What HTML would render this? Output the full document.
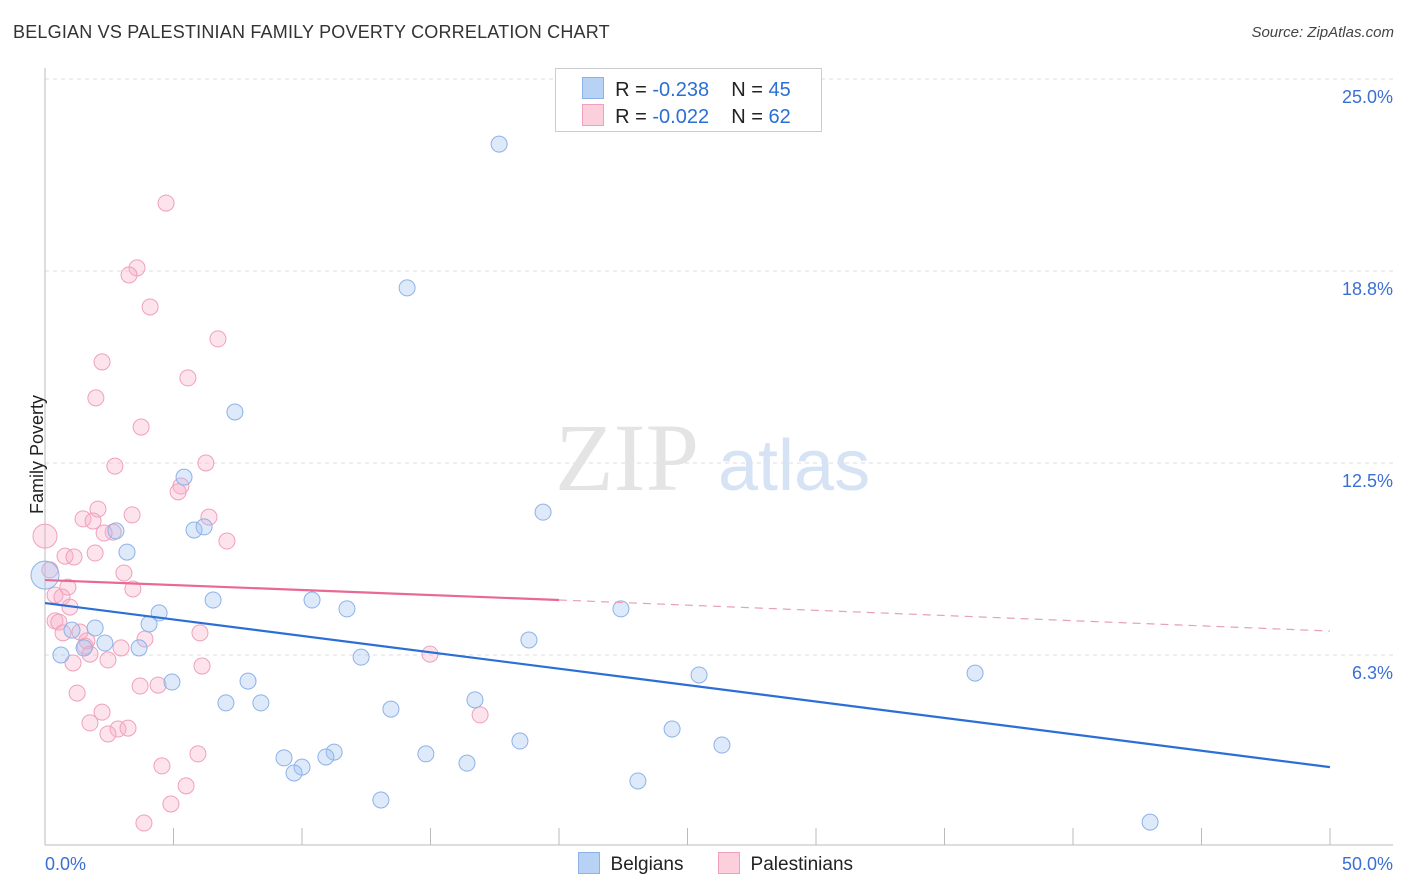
<!DOCTYPE html>
<html><head><meta charset="utf-8">
<style>
body{margin:0;background:#fff;font-family:"Liberation Sans",sans-serif;}
#wrap{position:relative;width:1406px;height:892px;overflow:hidden;}
.t{position:absolute;white-space:nowrap;}
</style></head>
<body>
<div id="wrap">
<div class="t" style="left:13px;top:22px;font-size:18px;color:#333;letter-spacing:0.2px">BELGIAN VS PALESTINIAN FAMILY POVERTY CORRELATION CHART</div>
<div class="t" style="right:12px;top:24px;font-size:15px;color:#444;font-style:italic">Source: ZipAtlas.com</div>
<svg id="svg" width="1406" height="892" style="position:absolute;left:0;top:0"></svg>
</div>
<script>
const xTicks=[0,50];
const yTicks=[6.25,12.5,18.75,25];
const yTickLabels=["6.3%","12.5%","18.8%","25.0%"];
const belX=[17.67,14.09,7.39,5.41,19.38,2.76,5.80,6.19,3.19,6.54,10.39,4.44,11.75,22.41,4.05,1.95,1.05,2.33,18.83,3.66,1.52,0.62,12.30,25.45,36.19,4.94,7.90,7.04,8.40,16.73,13.46,18.48,24.40,26.34,11.25,9.30,10.93,14.82,16.42,10.00,9.69,23.07,13.07,43.0];
const belY=[22.88,18.20,14.16,12.04,10.90,10.29,10.32,10.42,9.60,8.04,8.04,7.62,7.75,7.75,7.26,7.13,7.06,6.64,6.74,6.48,6.48,6.25,6.18,5.60,5.66,5.37,5.40,4.69,4.69,4.79,4.49,3.45,3.84,3.32,3.09,2.90,2.93,3.03,2.73,2.60,2.41,2.15,1.53,0.81];
const palX=[4.71,3.58,3.27,4.09,6.73,2.22,5.56,1.98,3.74,6.26,2.72,5.29,5.18,2.06,3.39,1.48,1.87,6.38,2.65,7.08,0.78,1.13,1.95,3.07,0.89,3.42,0.39,0.66,0.97,0.39,0.54,0.70,1.36,1.63,1.56,3.89,2.96,1.75,6.03,14.98,2.45,1.09,6.11,3.70,4.40,1.25,2.22,1.75,2.84,3.23,2.45,5.95,4.55,5.49,4.90,3.85,16.93,0.19,2.30];
const palY=[20.96,18.85,18.62,17.58,16.54,15.79,15.27,14.62,13.67,12.50,12.40,11.75,11.56,11.00,10.81,10.68,10.61,10.74,10.25,9.96,9.47,9.44,9.57,8.92,8.46,8.40,8.20,8.14,7.81,7.36,7.32,6.97,7.00,6.71,6.54,6.77,6.48,6.28,6.97,6.28,6.09,5.99,5.89,5.24,5.27,5.01,4.39,4.04,3.84,3.87,3.68,3.03,2.64,1.99,1.40,0.78,4.30,9.02,10.22];
const belTrend=[7.94,2.60];
const palTrend=[8.69,8.04,7.03];
const X=v=>45+v*25.7, Y=v=>847-v*30.72;
const S=document.getElementById('svg'),NS='http://www.w3.org/2000/svg';
function mk(tag,a,p){const e=document.createElementNS(NS,tag);for(const k in a)e.setAttribute(k,a[k]);(p||S).appendChild(e);return e;}
// grid
yTicks.forEach((v,i)=>{
 const g=mk('line',{x1:45,x2:1393,y1:Y(v),y2:Y(v),stroke:'#ddd','stroke-dasharray':'4,4'});
 
 
 const t=mk('text',{x:1393,y:Y(v)+24,'text-anchor':'end','font-size':18,fill:'#3b6fd4','font-family':'Liberation Sans'});
 t.textContent=yTickLabels[i];
 
 
});
// axes
const ax=mk('line',{x1:45,x2:1393,y1:845,y2:845,stroke:'#bbb'});


const ay=mk('line',{x1:45,x2:45,y1:68,y2:845,stroke:'#bbb'});


for(let i=1;i<=10;i++){const tk=mk('line',{x1:X(i*5),x2:X(i*5),y1:828,y2:845,stroke:'#bbb'});
 
 }
xTicks.forEach((v,i)=>{const t=mk('text',{x:i==0?X(v):X(v)+63,y:870,'text-anchor':i==0?'start':'end','font-size':18,fill:'#3b6fd4','font-family':'Liberation Sans'});
 t.textContent=v.toFixed(1)+'%';
 
 });
// watermark
const w=mk('text',{x:555,y:490,'font-size':96,fill:'#e4e4e4','font-family':'Liberation Serif'});w.textContent='ZIP';

const w2=mk('text',{x:718,y:490,'font-size':72,fill:'#d6e3f5','font-family':'Liberation Sans'});w2.textContent='atlas';

// points
palX.forEach((x,i)=>{const c=mk('circle',{cx:X(x),cy:Y(palY[i]),r:8,fill:'rgba(248,176,200,0.35)',stroke:'#f0a0bc','stroke-width':1});
 });
belX.forEach((x,i)=>{const c=mk('circle',{cx:X(x),cy:Y(belY[i]),r:8,fill:'rgba(160,195,240,0.35)',stroke:'#8cb2e8','stroke-width':1});
 });
let b1=mk('circle',{cx:X(0),cy:Y(8.85),r:14,fill:'rgba(160,195,240,0.35)',stroke:'#8cb2e8'});

let p1=mk('circle',{cx:X(0),cy:Y(10.12),r:12,fill:'rgba(248,176,200,0.35)',stroke:'#f0a0bc'});

// trends
const bl=mk('line',{x1:X(0),y1:Y(belTrend[0]),x2:X(50),y2:Y(belTrend[1]),stroke:'#2b6fd6','stroke-width':2.2});

const pl=mk('line',{x1:X(0),y1:Y(palTrend[0]),x2:X(20),y2:Y(palTrend[1]),stroke:'#e86a94','stroke-width':2.2});

const pd=mk('line',{x1:X(20),y1:Y(palTrend[1]),x2:X(50),y2:Y(palTrend[2]),stroke:'#e8a0b8','stroke-width':1.2,'stroke-dasharray':'8,6'});

</script>
<div class="t" style="left:555px;top:68px;width:265px;height:62px;border:1px solid #ccc;background:#fff;font-size:20px;color:#222">
 <div style="position:absolute;left:26px;top:8px"><span style="display:inline-block;width:20px;height:20px;background:#b8d2f5;border:1px solid #8cb2e8;vertical-align:-3px"></span>&nbsp; R = <span style="color:#2b6fd6">-0.238</span>&nbsp;&nbsp;&nbsp; N = <span style="color:#2b6fd6">45</span></div>
 <div style="position:absolute;left:26px;top:35px"><span style="display:inline-block;width:20px;height:20px;background:#fbcfdc;border:1px solid #f0a0bc;vertical-align:-3px"></span>&nbsp; R = <span style="color:#2b6fd6">-0.022</span>&nbsp;&nbsp;&nbsp; N = <span style="color:#2b6fd6">62</span></div>
</div>
<div class="t" style="left:-22px;top:444px;transform:rotate(-90deg);font-size:18px;color:#222">Family Poverty</div>
<div class="t" style="left:578px;top:852px;font-size:19px;color:#222"><span style="display:inline-block;width:20px;height:20px;background:#b8d2f5;border:1px solid #8cb2e8;vertical-align:-4px"></span>&nbsp; Belgians</div>
<div class="t" style="left:718px;top:852px;font-size:19px;color:#222"><span style="display:inline-block;width:20px;height:20px;background:#fbcfdc;border:1px solid #f0a0bc;vertical-align:-4px"></span>&nbsp; Palestinians</div>
</body></html>
